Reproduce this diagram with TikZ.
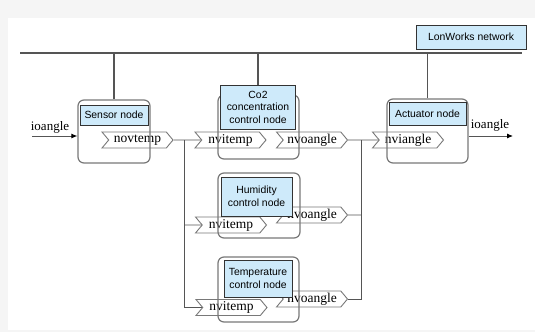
\documentclass[tikz,border=0pt]{standalone}
\usepackage{fontspec}
\setmainfont{Liberation Serif}
\setsansfont{Liberation Sans}
\usepackage{tikz}
\usetikzlibrary{shapes.symbols,arrows.meta}
\definecolor{panelgray}{RGB}{245,245,245}
\definecolor{labelblue}{RGB}{206,234,250}
\definecolor{wiregray}{RGB}{85,85,85}
\definecolor{framegray}{RGB}{120,120,120}
\pgfdeclarelayer{background}
\pgfdeclarelayer{canvas}
\pgfsetlayers{canvas,background,main}

\begin{document}
\begin{tikzpicture}[
    x=1pt, y=-1pt,
    devbox/.style={rectangle, draw=framegray, line width=1.2pt, rounded corners=6pt},
    namebox/.style={rectangle, draw=black!80, fill=labelblue, line width=0.8pt, font=\sffamily\fontsize{10.4}{12.5}\selectfont, align=center, inner sep=1pt},
    nvtag/.style={signal, signal to=east, signal from=west, signal pointer angle=100, draw=framegray, fill=white, line width=0.9pt, minimum width=71pt, minimum height=16pt, inner sep=0.5pt, font=\fontsize{13.5}{15}\selectfont},
    wire/.style={draw=wiregray, line width=0.9pt},
    iotext/.style={font=\fontsize{13}{15}\selectfont}
]
\begin{pgfonlayer}{canvas}
\fill[panelgray] (0,0) rectangle (535,332);
\fill[white] (8,18) rectangle (535,330);
\end{pgfonlayer}
\useasboundingbox (0,0) rectangle (535,332);

% network bus
\coordinate (busL) at (20,53);
\coordinate (busR) at (522,53);
\draw[draw=wiregray, line width=2.6pt] (busL) -- (busR);
\node[namebox, minimum width=110pt, minimum height=24pt] (lon) at (471,37) {LonWorks network};

% sensor node
\node[nvtag] (novtemp) at (137.5,140) {novtemp};
\node[devbox, minimum width=72pt, minimum height=63pt] (sensor) at (114,131.5) {};
\node[namebox, minimum width=68pt, minimum height=20pt] (sensorname) at (114,115) {Sensor node};

% control nodes
\node[nvtag] (tin1) at (230.5,140) {nvitemp};
\node[nvtag] (tout1) at (312,140) {nvoangle};
\node[devbox, minimum width=81pt, minimum height=64pt] (co2) at (258.5,127) {};
\node[namebox, minimum width=75pt, minimum height=44pt] (co2name) at (258,107) {Co2\\concentration\\control node};

\node[nvtag] (tin2) at (231,225) {nvitemp};
\node[nvtag] (tout2) at (312,215) {nvoangle};
\node[devbox, minimum width=82pt, minimum height=65pt] (humid) at (259,205.5) {};
\node[namebox, minimum width=71pt, minimum height=39pt] (humidname) at (256.5,196.5) {Humidity\\control node};

\node[nvtag] (tin3) at (231.5,307.5) {nvitemp};
\node[nvtag] (tout3) at (312,299) {nvoangle};
\node[devbox, minimum width=81pt, minimum height=65pt] (temp) at (258.5,289.5) {};
\node[namebox, minimum width=68pt, minimum height=37pt] (tempname) at (258,278.5) {Temperature\\control node};

% actuator node
\node[nvtag] (nviangle) at (408,140) {nviangle};
\node[devbox, minimum width=81pt, minimum height=64pt] (actuator) at (427.5,131) {};
\node[namebox, minimum width=77pt, minimum height=23pt] (actuatorname) at (427.5,113.5) {Actuator node};

% io
\coordinate (inL) at (32,136);
\coordinate (outR) at (513,136);
\node[iotext] (inlabel) at (50,127) {ioangle};
\node[iotext] (outlabel) at (490,125) {ioangle};
\draw[wire, -{Latex[length=6pt,width=5pt,black]}] (inL) -- (inL -| sensor.west);
\draw[wire, -{Latex[length=6pt,width=5pt,black]}] (actuator.east |- outR) -- (outR);

% bus drops and bindings
\coordinate (splitL) at (184,140);
\coordinate (splitR) at (361,140);
\begin{pgfonlayer}{background}
\draw[wire, line width=1.2pt] (sensor.north) -- (sensor.north |- busL);
\draw[wire, line width=1.2pt] (co2name.north) -- (co2name.north |- busL);
\draw[wire, line width=1.2pt] (actuator.north) -- (actuator.north |- busL);
\draw[wire] (novtemp) -- (tin1);
\draw[wire] (splitL) |- (tin3);
\draw[wire] (splitL |- tin2) -- (tin2);
\draw[wire] (tout1) -- (nviangle);
\draw[wire] (splitR) |- (tout3);
\draw[wire] (tout2) -- (splitR |- tout2);
\end{pgfonlayer}
\end{tikzpicture}
\end{document}
